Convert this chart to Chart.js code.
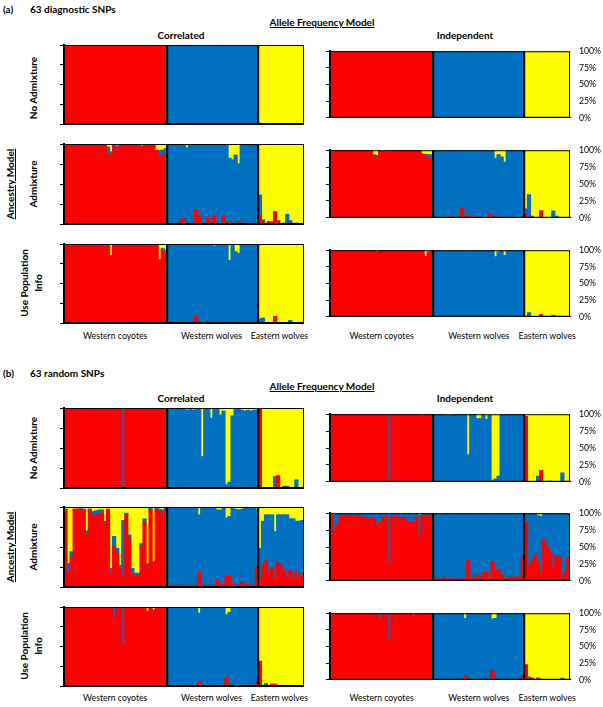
<!DOCTYPE html>
<html><head><meta charset="utf-8">
<script src="https://cdn.jsdelivr.net/npm/chart.js@4"></script>
<style>
body{margin:0;background:#fff;width:603px;height:707px;position:relative;overflow:hidden;font-family:Lato,"Open Sans",sans-serif;color:#000}
canvas{position:absolute}
.t{position:absolute;white-space:nowrap;line-height:1}
.c{transform:translate(-50%,-50%)}
.l{transform:translateY(-50%)}
.r{transform:translate(-50%,-50%) rotate(-90deg);text-align:center}
.b{font-weight:bold;font-size:10px}
.g{font-size:8.7px}
.u{text-decoration:underline}
</style></head><body>
<div class="t l b" style="left:3px;top:9px">(a)</div>
<div class="t l b" style="left:30px;top:9px">63 diagnostic SNPs</div>
<div class="t c b u" style="left:322px;top:22px">Allele Frequency Model</div>
<div class="t c b" style="left:181px;top:35px">Correlated</div>
<div class="t c b" style="left:465px;top:35px">Independent</div>
<div class="t r b" style="left:33px;top:88px">No Admixture</div>
<div class="t r b u" style="left:10px;top:184px">Ancestry Model</div>
<div class="t r b" style="left:33px;top:184px">Admixture</div>
<div class="t r b" style="left:31px;top:283px;line-height:14px">Use Population<br>Info</div>

<div class="t l b" style="left:3px;top:373px">(b)</div>
<div class="t l b" style="left:30px;top:373px">63 random SNPs</div>
<div class="t c b u" style="left:322px;top:386px">Allele Frequency Model</div>
<div class="t c b" style="left:181px;top:398px">Correlated</div>
<div class="t c b" style="left:465px;top:398px">Independent</div>
<div class="t r b" style="left:33px;top:448px">No Admixture</div>
<div class="t r b u" style="left:10px;top:547px">Ancestry Model</div>
<div class="t r b" style="left:33px;top:547px">Admixture</div>
<div class="t r b" style="left:31px;top:646px;line-height:14px">Use Population<br>Info</div>
<div id="glabels"></div>
<script>
const groupNames = ["Western coyotes","Western wolves","Eastern wolves"];
const groupSizes = [34,30,15];
const pctTicks = [0,25,50,75,100];

// (a) 63 diagnostic SNPs — No admixture (both models identical)
const a1Red = [100,100,100,100,100,100,100,100,100,100, 100,100,100,100,100,100,100,100,100,100, 100,100,100,100,100,100,100,100,100,100, 100,100,100,100,
 0,0,0,0,0,0,0,0,0,0, 0,0,0,0,0,0,0,0,0,0, 0,0,0,0,0,0,0,0,0,0,
 0,0,0,0,0,0,0,0,0,0,0,0,0,0,0];
const a1Blue = [0,0,0,0,0,0,0,0,0,0, 0,0,0,0,0,0,0,0,0,0, 0,0,0,0,0,0,0,0,0,0, 0,0,0,0,
 100,100,100,100,100,100,100,100,100,100, 100,100,100,100,100,100,100,100,100,100, 100,100,100,100,100,100,100,100,100,100,
 0,0,0,0,0,0,0,0,0,0,0,0,0,0,0];
const a1Yellow = [0,0,0,0,0,0,0,0,0,0, 0,0,0,0,0,0,0,0,0,0, 0,0,0,0,0,0,0,0,0,0, 0,0,0,0,
 0,0,0,0,0,0,0,0,0,0, 0,0,0,0,0,0,0,0,0,0, 0,0,0,0,0,0,0,0,0,0,
 100,100,100,100,100,100,100,100,100,100,100,100,100,100,100];

// (a) Admixture — Correlated
const a2cRed = [99,99,100,98,99,99,100,99,98,99, 100,99,99,99,88,86,99,91,98,99, 99,98,99,99,99,96,99,99,99,99, 92,84,86,84,
 0,0,0,0,4,6,0,0,0,18, 10,0,0,7,0,10,0,0,10,0, 3,0,0,3,0,0,0,0,0,0,
 10,2,0,3,2,15,3,0,0,0,1,0,0,0,0];
const a2cBlue = [0,0,0,0,0,0,0,0,0,0, 0,0,0,0,8,4,0,6,1,0, 0,0,0,0,0,1,0,0,0,0, 0,8,6,10,
 99,99,98,99,95,93,95,99,99,81, 89,99,98,92,99,89,98,99,89,99, 79,80,86,72,99,99,98,99,99,99,
 26,3,1,0,1,0,1,0,1,12,3,0,1,0,0];
const a2cYellow = [1,1,0,2,1,1,0,1,2,1, 0,1,1,1,4,10,1,3,1,1, 1,2,1,1,1,3,1,1,1,1, 8,8,8,6,
 1,1,2,1,1,1,5,1,1,1, 1,1,2,1,1,1,2,1,1,1, 18,20,14,25,1,1,2,1,1,1,
 64,95,99,97,97,85,96,100,99,88,96,100,99,100,100];

// (a) Admixture — Independent
const a2iRed = [100,100,100,100,100,100,100,100,100,100, 100,100,100,100,90,92,100,97,98,100, 100,100,100,100,100,100,100,100,100,100, 94,93,87,88,
 0,0,0,0,0,2,0,0,0,14, 0,2,2,0,0,0,0,0,6,0, 3,0,0,0,0,0,0,0,0,0,
 5,0,1,0,0,10,0,0,0,0,0,0,0,0,0];
const a2iBlue = [0,0,0,0,0,0,0,0,0,0, 0,0,0,0,3,0,0,1,1,0, 0,0,0,0,0,0,0,0,0,0, 0,0,6,5,
 100,99,99,99,99,98,100,100,100,86, 100,98,98,100,100,100,100,100,94,100, 85,93,90,82,100,100,100,100,100,100,
 8,34,1,0,0,0,0,0,0,10,2,0,0,0,0];
const a2iYellow = [0,0,0,0,0,0,0,0,0,0, 0,0,0,0,7,8,0,2,1,0, 0,0,0,0,0,0,0,0,0,0, 6,7,7,7,
 0,1,1,1,1,0,0,0,0,0, 0,0,0,0,0,0,0,0,0,0, 12,7,10,18,0,0,0,0,0,0,
 87,66,98,100,100,90,100,100,100,90,98,100,100,100,100];

// (a) Use population info — Correlated
const a3cRed = [100,100,100,100,100,100,100,100,100,100, 100,100,100,100,98,85,100,100,100,100, 100,100,100,100,100,100,100,100,100,100, 100,80,91,84,
 0,0,0,0,0,0,0,0,0,9, 0,0,0,0,0,0,0,0,0,0, 0,0,0,0,0,0,0,0,0,0,
 0,0,0,0,0,8,0,0,0,0,0,0,0,0,0];
const a3cBlue = [0,0,0,0,0,0,0,0,0,0, 0,0,0,0,1,0,0,0,0,0, 0,0,0,0,0,0,0,0,0,0, 0,0,3,8,
 100,99,100,100,100,99,100,100,100,90, 100,100,100,100,100,97,100,100,98,100, 79,100,90,88,100,100,100,100,100,100,
 5,6,0,0,0,0,0,0,0,0,3,0,0,0,0];
const a3cYellow = [0,0,0,0,0,0,0,0,0,0, 0,0,0,0,1,15,0,0,0,0, 0,0,0,0,0,0,0,0,0,0, 0,20,6,8,
 0,1,0,0,0,1,0,0,0,1, 0,0,0,0,0,3,0,0,2,0, 21,0,10,12,0,0,0,0,0,0,
 95,94,100,100,100,92,100,100,100,100,97,100,100,100,100];

// (a) Use population info — Independent
const a3iRed = [100,100,100,100,100,100,100,100,100,100, 100,100,100,100,100,97,100,100,100,100, 100,100,100,100,100,100,100,100,100,100, 100,90,96,100,
 0,0,0,0,0,0,0,0,0,1, 0,0,0,0,0,0,0,0,0,0, 0,0,0,0,0,0,0,0,0,0,
 0,0,0,0,0,3,0,0,0,0,0,0,0,0,0];
const a3iBlue = [0,0,0,0,0,0,0,0,0,0, 0,0,0,0,0,0,0,0,0,0, 0,0,0,0,0,0,0,0,0,0, 0,0,1,0,
 100,100,100,100,100,100,100,100,100,99, 100,100,100,100,100,100,100,100,100,100, 90,97,100,92,100,100,100,100,100,100,
 0,6,0,0,0,0,0,0,0,2,0,0,0,0,0];
const a3iYellow = [0,0,0,0,0,0,0,0,0,0, 0,0,0,0,0,3,0,0,0,0, 0,0,0,0,0,0,0,0,0,0, 0,10,3,0,
 0,0,0,0,0,0,0,0,0,0, 0,0,0,0,0,0,0,0,0,0, 10,3,0,8,0,0,0,0,0,0,
 100,94,100,100,100,97,100,100,100,98,100,100,100,100,100];

// (b) 63 random SNPs — No admixture — Correlated
const b1cRed = [100,100,100,100,100,100,100,100,100,100, 100,100,100,100,100,100,100,100,100,0, 100,100,100,100,100,99,100,98,100,99, 100,100,100,100,
 0,0,0,0,0,0,0,0,0,0, 0,0,0,0,0,0,0,0,0,0, 0,0,0,0,0,0,0,0,0,0,
 100,0,0,0,0,0,15,0,0,0,0,0,0,0,0];
const b1cBlue = [0,0,0,0,0,0,0,0,0,0, 0,0,0,0,0,0,0,0,0,100, 0,0,0,0,0,0,0,0,0,0, 0,0,0,0,
 100,99,99,100,100,100,97,98,97,100, 100,39,100,100,87,100,100,91,96,4, 7,90,100,100,97,96,97,96,97,97,
 0,0,0,0,0,14,0,0,2,2,0,0,10,0,0];
const b1cYellow = [0,0,0,0,0,0,0,0,0,0, 0,0,0,0,0,0,0,0,0,0, 0,0,0,0,0,1,0,2,0,1, 0,0,0,0,
 0,1,1,0,0,0,3,2,3,0, 0,61,0,0,13,0,0,9,4,96, 93,10,0,0,3,4,3,4,3,3,
 0,100,100,100,100,86,85,100,98,98,100,100,90,100,100];

// (b) No admixture — Independent
const b1iRed = [100,100,100,100,100,100,100,100,100,100, 100,100,100,100,100,100,100,100,100,0, 100,100,100,100,100,100,100,100,100,100, 98,100,100,100,
 0,0,0,0,0,0,0,0,0,0, 0,0,0,0,0,0,0,0,0,0, 0,0,0,0,0,0,0,0,0,0,
 96,0,0,0,0,16,0,0,0,0,0,0,0,0,0];
const b1iBlue = [0,0,0,0,0,0,0,0,0,0, 0,0,0,0,0,0,0,0,0,100, 0,0,0,0,0,0,0,0,0,0, 0,0,0,0,
 100,100,100,100,98,98,100,100,100,100, 100,40,100,100,93,93,100,92,98,2, 4,8,100,99,100,99,100,99,100,100,
 0,0,0,0,8,0,0,0,1,0,0,0,13,0,0];
const b1iYellow = [0,0,0,0,0,0,0,0,0,0, 0,0,0,0,0,0,0,0,0,0, 0,0,0,0,0,0,0,0,0,0, 2,0,0,0,
 0,0,0,0,2,2,0,0,0,0, 0,60,0,0,7,7,0,8,2,98, 96,92,0,1,0,1,0,1,0,0,
 4,100,100,100,92,84,100,100,99,100,100,100,87,100,100];

// (b) Admixture — Correlated
const b2cRed = [97,19,36,97,97,97,96,65,97,88, 90,92,92,78,97,19,50,42,23,12, 90,62,16,13,14,50,80,25,96,31, 97,94,90,96,
 2,2,2,2,2,2,1,2,2,2, 18,2,2,2,2,2,8,3,2,13, 13,3,2,2,5,2,3,2,2,25,
 12,27,32,18,23,10,30,25,20,12,20,10,18,10,15];
const b2cBlue = [0,10,8,0,0,1,1,5,0,6, 5,4,4,4,0,4,13,6,4,71, 2,3,7,4,3,4,5,4,2,0, 1,3,6,2,
 97,97,96,97,97,96,98,96,97,97, 72,96,97,97,96,97,88,93,96,73, 75,95,95,94,92,97,96,97,96,72,
 36,55,58,72,67,59,60,65,70,78,65,75,64,72,68];
const b2cYellow = [3,71,56,3,3,2,3,30,3,6, 5,4,4,18,3,77,37,52,73,17, 8,35,77,83,83,46,15,71,2,69, 2,3,4,2,
 1,1,2,1,1,2,1,2,1,1, 10,2,1,1,2,1,4,4,2,14, 12,2,3,4,3,1,1,1,2,3,
 52,18,10,10,10,31,10,10,10,10,15,15,18,18,17];

// (b) Admixture — Independent
const b2iRed = [98,74,84,96,96,97,96,96,97,95, 95,93,93,92,93,82,86,94,95,25, 94,95,93,94,93,86,87,86,94,65, 97,96,97,97,
 2,3,2,5,2,3,2,3,2,2, 3,29,4,4,8,3,12,12,3,28, 15,15,8,3,4,5,5,5,5,35,
 86,21,29,38,27,13,61,50,42,19,36,34,4,13,34];
const b2iBlue = [2,25,15,4,4,3,4,3,3,5, 5,7,6,8,7,17,14,6,3,75, 6,5,7,4,6,14,13,12,6,32, 3,4,3,3,
 97,97,98,95,98,97,97,97,98,98, 97,71,96,96,91,97,88,88,97,72, 84,85,92,97,96,95,95,95,95,65,
 13,79,71,62,69,82,39,50,58,81,64,66,96,87,65];
const b2iYellow = [0,1,1,0,0,0,0,1,0,0, 0,0,1,0,0,1,0,0,2,0, 0,0,0,2,1,0,0,2,0,3, 0,0,0,0,
 1,0,0,0,0,0,1,0,0,0, 0,0,0,0,1,0,0,0,0,0, 1,0,0,0,0,0,0,0,0,0,
 1,0,0,0,4,5,0,0,0,0,0,0,0,0,1];

// (b) Use population info — Correlated
const b3cRed = [100,97,100,100,100,100,100,100,100,100, 99,100,100,100,100,100,87,100,100,53, 100,100,100,100,99,100,100,94,100,92, 100,100,100,100,
 0,0,0,0,0,0,0,0,0,0, 5,0,0,0,0,0,0,0,0,10, 0,0,0,0,0,0,0,0,0,4,
 31,0,0,0,2,2,0,0,0,0,0,0,0,0,0];
const b3cBlue = [0,3,0,0,0,0,0,0,0,0, 0,0,0,0,0,0,13,0,0,47, 0,0,0,0,0,0,0,0,0,4, 0,0,0,0,
 100,100,99,100,100,99,100,100,100,100, 87,100,100,99,100,100,100,100,100,80, 93,100,100,100,100,100,99,100,100,96,
 0,0,3,0,0,0,0,0,0,0,0,0,0,0,0];
const b3cYellow = [0,0,0,0,0,0,0,0,0,0, 1,0,0,0,0,0,0,0,0,0, 0,0,0,0,1,0,0,6,0,4, 0,0,0,0,
 0,0,1,0,0,1,0,0,0,0, 8,0,0,1,0,0,0,0,0,10, 7,0,0,0,0,0,1,0,0,0,
 69,100,97,100,98,98,100,100,100,100,100,100,100,100,100];

// (b) Use population info — Independent
const b3iRed = [100,97,100,100,100,100,100,100,100,100, 100,100,100,100,100,100,92,100,100,58, 100,100,100,100,100,100,100,97,100,97, 100,100,100,100,
 0,0,0,0,0,0,0,0,0,0, 6,0,0,0,0,0,0,0,0,13, 0,0,0,0,0,0,0,0,0,6,
 22,0,2,0,2,0,0,0,0,0,0,0,0,0,0];
const b3iBlue = [0,3,0,0,0,0,0,0,0,0, 0,0,0,0,0,0,8,0,0,42, 0,0,0,0,0,0,0,0,0,3, 0,0,0,0,
 100,100,100,100,100,100,100,100,100,100, 86,100,100,100,100,100,100,100,100,78, 92,100,100,99,100,99,100,100,100,94,
 0,4,0,0,0,0,0,0,0,0,0,0,2,0,0];
const b3iYellow = [0,0,0,0,0,0,0,0,0,0, 0,0,0,0,0,0,0,0,0,0, 0,0,0,0,0,0,0,3,0,0, 0,0,0,0,
 0,0,0,0,0,0,0,0,0,0, 8,0,0,0,0,0,0,0,0,9, 8,0,0,1,0,1,0,0,0,0,
 78,96,98,100,98,100,100,100,100,100,100,100,98,100,100];

const COLORS = {red:'#FF0000', blue:'#0070C0', yellow:'#FFFF00'};
const FONT = 'Lato, "Open Sans", sans-serif';

// categories (one per individual) built from the groups
const individuals = [];
const boundaries = [];
groupSizes.forEach((n,g)=>{ for(let i=1;i<=n;i++) individuals.push(groupNames[g]+' '+i); boundaries.push(individuals.length); });
const dividers = boundaries.slice(0,-1);

const panels = [
  {x:64, y:45, w:238, h:79, right:false, d:[a1Red,a1Blue,a1Yellow]},
  {x:330,y:45, w:240, h:79, right:true,  d:[a1Red,a1Blue,a1Yellow]},
  {x:64, y:144,w:238, h:80, right:false, d:[a2cRed,a2cBlue,a2cYellow]},
  {x:330,y:144,w:240, h:80, right:true,  d:[a2iRed,a2iBlue,a2iYellow]},
  {x:64, y:244,w:238, h:79, right:false, d:[a3cRed,a3cBlue,a3cYellow]},
  {x:330,y:244,w:240, h:79, right:true,  d:[a3iRed,a3iBlue,a3iYellow]},
  {x:64, y:408,w:238, h:80, right:false, d:[b1cRed,b1cBlue,b1cYellow]},
  {x:330,y:408,w:240, h:80, right:true,  d:[b1iRed,b1iBlue,b1iYellow]},
  {x:64, y:507,w:238, h:80, right:false, d:[b2cRed,b2cBlue,b2cYellow]},
  {x:330,y:507,w:240, h:80, right:true,  d:[b2iRed,b2iBlue,b2iYellow]},
  {x:64, y:607,w:238, h:79, right:false, d:[b3cRed,b3cBlue,b3cYellow]},
  {x:330,y:607,w:240, h:79, right:true,  d:[b3iRed,b3iBlue,b3iYellow]}
];
panels.forEach((p,i)=>p.d.forEach((a,j)=>{ if(a.length!==individuals.length) throw new Error('panel '+i+' series '+j+' length '+a.length); }));

const frame = {
  id:'frame',
  afterDraw(chart){
    const a = chart.chartArea, c = chart.ctx;
    c.save(); c.strokeStyle='#000'; c.lineWidth=1;
    c.strokeRect(a.left+0.5, a.top+0.5, a.right-a.left-1, a.bottom-a.top-1);
    c.restore();
  }
};

function makePanel(p){
  const padT=8, padB=8, axisW=10, rightW = p.right?33:2;
  const cv = document.createElement('canvas');
  const W = axisW+p.w+rightW, H = p.h+padT+padB;
  cv.width=W; cv.height=H; cv.style.width=W+'px'; cv.style.height=H+'px';
  cv.style.left=(p.x-axisW)+'px'; cv.style.top=(p.y-padT)+'px';
  document.body.appendChild(cv);
  const scales = {
    x:{type:'category', stacked:true, offset:true,
       grid:{offset:true, drawTicks:false, z:1, lineWidth:2.2,
             color:ctx=> dividers.includes(ctx.index) ? '#000' : 'rgba(0,0,0,0)'},
       ticks:{display:false}, border:{display:true, color:'#000', width:1, z:1},
       afterFit:s=>{s.height=0;}},
    y:{stacked:true, min:0, max:100, position:'left',
       ticks:{display:false, stepSize:25},
       grid:{drawOnChartArea:false, drawTicks:true, tickLength:4, tickColor:'#000', tickWidth:1, z:1},
       border:{display:true, color:'#000', width:2, z:2},
       afterFit:s=>{s.width=axisW;}}
  };
  if(p.right){
    scales.y2 = {position:'right', min:0, max:100,
      afterBuildTicks:s=>{ s.ticks = pctTicks.map(v=>({value:v})); },
      ticks:{callback:v=>v+'%', padding:9, color:'#000', font:{size:8.7, family:FONT}},
      grid:{display:false, drawTicks:false}, border:{display:false},
      afterFit:s=>{s.width=rightW;}};
  }
  new Chart(cv, {
    type:'bar',
    data:{labels:individuals, datasets:[
      {data:p.d[0], backgroundColor:COLORS.red},
      {data:p.d[1], backgroundColor:COLORS.blue},
      {data:p.d[2], backgroundColor:COLORS.yellow}
    ]},
    options:{
      responsive:false, animation:false, devicePixelRatio:1,
      layout:{padding:{top:padT,bottom:padB,left:0,right:0}},
      datasets:{bar:{barPercentage:1, categoryPercentage:1, borderWidth:0, inflateAmount:0.6}},
      plugins:{legend:{display:false}, tooltip:{enabled:false}},
      scales
    },
    plugins:[frame]
  });
}
panels.forEach(makePanel);

// group labels under bottom rows of each section, centred on their group
const gl = document.getElementById('glabels');
[{y:336, x0:64, w:238},{y:336, x0:330, w:240},{y:698, x0:64, w:238},{y:698, x0:330, w:240}].forEach(r=>{
  let start=0;
  groupSizes.forEach((n,g)=>{
    const cx = r.x0 + (start + n/2) * r.w / individuals.length;
    const d = document.createElement('div');
    d.className='t c g'; d.style.left=cx+'px'; d.style.top=r.y+'px'; d.textContent=groupNames[g];
    gl.appendChild(d); start+=n;
  });
});
</script>
</body></html>
